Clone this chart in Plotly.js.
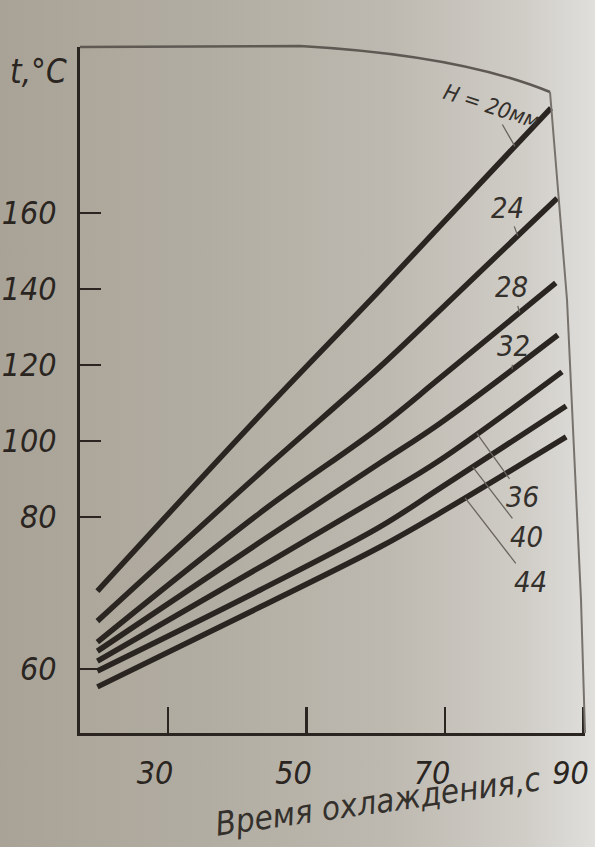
<!DOCTYPE html>
<html>
<head>
<meta charset="utf-8">
<script src="https://cdn.plot.ly/plotly-3.0.1.min.js"></script>
<style>
  html, body { margin: 0; padding: 0; }
  body {
    width: 595px; height: 847px; overflow: hidden;
    background: linear-gradient(90deg, #a9a397 0%, #b2ada2 35%, #bdb9b0 65%, #d0cdc7 88%, #e0dfdc 100%);
  }
  #chart { width: 595px; height: 847px; }
</style>
</head>
<body>
<div id="chart"></div>
<script>
// Cooling time (s) and temperature t (°C) for each mould thickness H (mm)
const thickness = [20, 24, 28, 32, 36, 40, 44];

const x20 = [19.8, 43.3, 60.6, 69.3, 85.3];
const t20 = [60.5, 106.8, 139.7, 156.6, 187.6];
const x24 = [19.8, 43.3, 60.6, 69.3, 86.2];
const t24 = [52.6, 91.6, 119.5, 134.5, 163.9];
const x28 = [19.8, 43.3, 60.6, 69.3, 86.0];
const t28 = [47.1, 81.1, 103.7, 116.6, 141.6];
const x32 = [19.8, 43.3, 60.6, 69.3, 86.3];
const t32 = [44.7, 73.4, 94.2, 104.7, 127.9];
const x36 = [19.8, 43.3, 60.6, 69.3, 86.9];
const t36 = [42.1, 66.8, 85.3, 95.0, 118.2];
const x40 = [19.8, 43.3, 60.6, 69.3, 87.5];
const t40 = [39.5, 60.8, 77.4, 87.6, 109.2];
const x44 = [19.8, 43.3, 60.6, 69.3, 87.5];
const t44 = [35.3, 56.3, 72.1, 81.1, 101.1];

const lineLabels = ['H = 20мм', '24', '28', '32', '36', '40', '44'];

const xTickValues = [30, 50, 70, 90];
const xTickLabels = ['30', '50', '70', '90'];
const yTickValues = [40, 80, 100, 120, 140, 160];
const yTickLabels = ['60', '80', '100', '120', '140', '160'];

const xTitle = 'Время охлаждения,с';
const yTitle = 't,°C';

const seriesX = [x20, x24, x28, x32, x36, x40, x44];
const seriesT = [t20, t24, t28, t32, t36, t40, t44];

const ink = '#2a2521';
const font = 'DejaVu Sans Condensed, Liberation Sans Narrow, sans-serif';

const traces = thickness.map((h, i) => ({
  type: 'scatter', mode: 'lines',
  name: 'H = ' + h + ' мм',
  x: seriesX[i], y: seriesT[i],
  line: { color: ink, width: 5.5, shape: 'spline', smoothing: 1 },
  hoverinfo: 'x+y+name'
}));

function interp(xs, ys, x) {
  for (let i = 0; i < xs.length - 1; i++) {
    if (x >= xs[i] && x <= xs[i + 1]) {
      const f = (x - xs[i]) / (xs[i + 1] - xs[i]);
      return ys[i] + f * (ys[i + 1] - ys[i]);
    }
  }
  return ys[ys.length - 1];
}

// leader placement (tip x along the curve, text offset in px)
const leaderTipX = [80.1, 80.5, 80.8, 79.7, 74.6, 74.0, 72.9];
const leaderAx = [-23, -10, -8, 1, 46, 54, 65];
const leaderAy = [-40, -28, -25, -23, 64, 70, 84];

const annotations = lineLabels.map((txt, i) => ({
  x: leaderTipX[i], y: interp(seriesX[i], seriesT[i], leaderTipX[i]),
  xref: 'x', yref: 'y',
  text: txt,
  showarrow: true, arrowhead: 0, arrowwidth: 1.3, arrowcolor: '#6a655f',
  ax: leaderAx[i], ay: leaderAy[i], standoff: 0,
  textangle: i === 0 ? 18 : 0,
  font: { family: font, size: i === 0 ? 22 : 29, color: '#34302c', style: 'italic' }
}));

annotations.push({
  xref: 'paper', yref: 'paper', x: -0.082, y: 0.965,
  xanchor: 'center', yanchor: 'middle',
  text: yTitle, showarrow: false,
  font: { family: font, size: 33, color: ink, style: 'italic' }
});
annotations.push({
  xref: 'paper', yref: 'paper', x: 0.59, y: -0.1,
  xanchor: 'center', yanchor: 'middle',
  text: xTitle, showarrow: false, textangle: -8,
  font: { family: font, size: 33, color: '#34302c', style: 'italic' }
});

// frame (top and right edges drawn as in the photographed page)
const L = 80, R = 585, T = 47, B = 733;
const px = v => ((v - L) / (R - L)).toFixed(4);
const py = v => ((B - v) / (B - T)).toFixed(4);
const shapes = [
  { type: 'path', xref: 'paper', yref: 'paper',
    path: `M${px(80)},${py(47)} L${px(300)},${py(46)} Q${px(460)},${py(55)} ${px(550)},${py(92)}`,
    line: { color: '#5e5953', width: 2.5 } },
  { type: 'path', xref: 'paper', yref: 'paper',
    path: `M${px(550)},${py(92)} L${px(567)},${py(300)} L${px(581)},${py(600)} L${px(585)},${py(733)}`,
    line: { color: '#77726c', width: 2 } }
];

const layout = {
  width: 595, height: 847,
  margin: { l: L, r: 595 - R, t: T, b: 847 - B },
  paper_bgcolor: 'rgba(0,0,0,0)', plot_bgcolor: 'rgba(0,0,0,0)',
  showlegend: false,
  xaxis: {
    range: [17.29, 90.22], tickvals: xTickValues, ticktext: xTickLabels,
    ticks: 'inside', ticklen: 26, tickwidth: 2.5, tickcolor: ink,
    showline: true, linecolor: ink, linewidth: 3, mirror: false,
    showgrid: false, zeroline: false, ticklabelstandoff: 10,
    ticklabelshift: -13, ticklabeloverflow: 'allow',
    tickfont: { family: font, size: 32, color: ink, style: 'italic' }
  },
  yaxis: {
    range: [23.16, 203.68], tickvals: yTickValues, ticktext: yTickLabels,
    ticks: 'inside', ticklen: 21, tickwidth: 2.5, tickcolor: ink,
    showline: true, linecolor: ink, linewidth: 3, mirror: false,
    showgrid: false, zeroline: false, ticklabelstandoff: 14,
    tickfont: { family: font, size: 32, color: ink, style: 'italic' }
  },
  shapes: shapes,
  annotations: annotations
};

Plotly.newPlot('chart', traces, layout, { displayModeBar: false, staticPlot: true });
</script>
</body>
</html>
